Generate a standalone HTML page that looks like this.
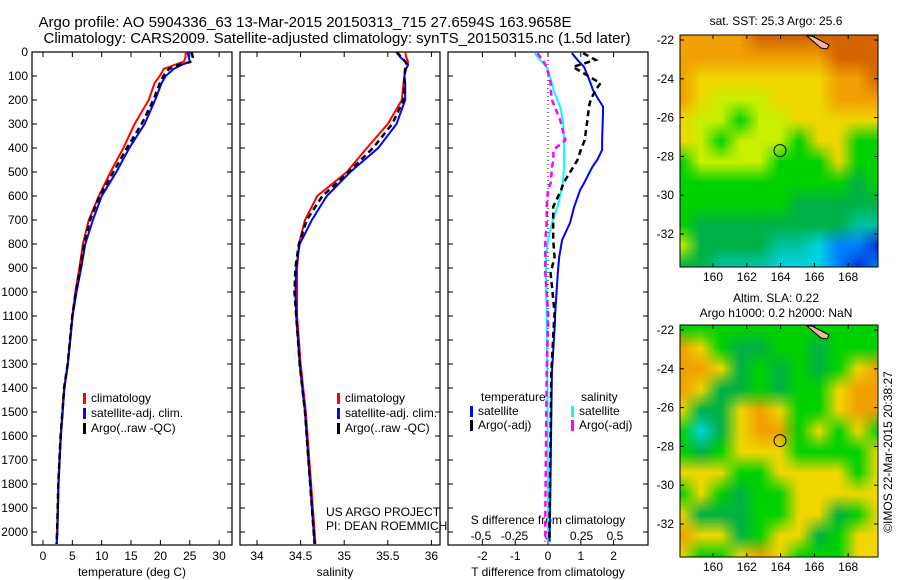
<!DOCTYPE html>
<html><head><meta charset="utf-8"><style>
body{margin:0;background:#fff;width:900px;height:580px;overflow:hidden;font-family:"Liberation Sans",sans-serif}
#root{position:relative;width:900px;height:580px}
svg{position:absolute;left:0;top:0}
canvas{position:absolute}
text{font-family:"Liberation Sans",sans-serif;font-size:12px;fill:#000}
</style></head><body>
<div id="root">
<canvas id="map1" width="198" height="232" style="left:680px;top:35px"></canvas>
<canvas id="map2" width="198" height="232" style="left:680px;top:325px"></canvas>
<svg id="s" width="900" height="580"></svg>
</div>
<script>
// ---- data ----
const depthsTop=[0,20,40,55,70,100,130,200,300,400,500,600,700,800,900,1000];
const tempClim=[24.3,24.3,24.0,22.3,20.6,19.9,19.0,18.0,15.6,13.7,11.5,9.5,7.8,6.8,6.2,5.5];
const tempSat=[24.6,24.8,25.0,23.5,22.3,20.9,20.2,19.1,17.3,14.7,12.5,10.0,8.5,7.2,6.5,5.7];
const tempArgo=[25.3,25.5,25.3,23.0,21.5,20.5,19.9,18.8,16.8,14.3,12.0,9.6,8.0,7.0,6.3,5.6];
const depthsDeep=[1100,1200,1300,1400,1500,1600,1700,1800,1900,2000,2050];
const tempDeep=[5.0,4.6,4.2,3.6,3.3,3.0,2.8,2.6,2.5,2.4,2.3];
const salClim=[35.70,35.71,35.73,35.73,35.71,35.69,35.68,35.66,35.50,35.26,35.03,34.69,34.55,34.48,34.46,34.46];
const salSat=[35.60,35.64,35.70,35.73,35.71,35.69,35.70,35.70,35.60,35.39,35.07,34.80,34.63,34.49,34.45,34.44];
const salArgo=[35.60,35.65,35.70,35.72,35.70,35.69,35.69,35.68,35.55,35.33,35.05,34.75,34.57,34.48,34.44,34.43];
const salDeep=[34.45,34.47,34.49,34.52,34.55,34.57,34.59,34.61,34.63,34.65,34.66];
const diffDepths=[5,33,62,130,158,200,228,283,367,408,450,479,546,575,645,712,783,854,921,1087,1130,1337,1937,2040];
const tDiffSat=[0.73,0.9,1.1,1.3,1.37,1.55,1.68,1.67,1.65,1.65,1.5,1.35,1.1,0.98,0.8,0.67,0.43,0.34,0.3,0.22,0.21,0.12,0.06,0.05];
const tDiffArgo=[1.07,1.45,0.76,1.6,1.45,1.3,1.25,1.2,1.12,1.0,0.9,0.77,0.47,0.4,0.16,0.16,0.16,0.2,0.08,0.2,0.18,0.1,0.05,0.04];
const sDiffSat=[-0.1,-0.06,-0.01,0.03,0.04,0.07,0.09,0.11,0.12,0.12,0.12,0.12,0.11,0.1,0.07,0.03,0,-0.015,-0.015,-0.01,-0.01,-0.005,0,0];
const sDiffArgo=[-0.08,-0.04,-0.01,0.02,0.02,0.03,0.05,0.09,0.13,0.04,0.04,0.03,0.02,0.0,-0.01,-0.01,-0.02,-0.02,-0.02,0.0,0.0,-0.01,-0.02,-0.02];
const depthTicks=[0,100,200,300,400,500,600,700,800,900,1000,1100,1200,1300,1400,1500,1600,1700,1800,1900,2000];
const tempTicks=[0,5,10,15,20,25,30];
const salTicks=[34,34.5,35,35.5,36];
const tDiffTicks=[-2,-1,0,1,2];
const sDiffTicks=["-0.5","-0.25","0","0.25","0.5"];
const latTicks=[-22,-24,-26,-28,-30,-32];
const lonTicks=[160,162,164,166,168];

// ---- axis functions ----
const yD=d=>52+d*0.24;
const xT=t=>43+t*5.87;
const xS=s=>257+(s-34)*87.2;
const xTd=t=>548+t*32.8;
const xSd=s=>548+s*134;
const NS="http://www.w3.org/2000/svg";
const svg=document.getElementById('s');
function el(tag,attrs,parent){const e=document.createElementNS(NS,tag);for(const k in attrs)e.setAttribute(k,attrs[k]);(parent||svg).appendChild(e);return e;}
function txt(x,y,s,anchor,extra){const t=el('text',Object.assign({x:x,y:y,'text-anchor':anchor||'start'},extra||{}));t.textContent=s;return t;}

// titles
let t1=txt(305,27,'Argo profile: AO 5904336_63 13-Mar-2015 20150313_715 27.6594S 163.9658E','middle',{style:'font-size:15px'});

let t2=txt(337,43,'Climatology: CARS2009. Satellite-adjusted climatology: synTS_20150315.nc (1.5d later)','middle',{style:'font-size:15px'});


const panels=[[32,232],[240,440],[448,648]];
panels.forEach((p,i)=>{
  const r=el('rect',{x:p[0],y:52,width:p[1]-p[0],height:493,fill:'none',stroke:'#000','stroke-width':1.2});
  
  
  depthTicks.forEach(d=>{const y=yD(d);
    el('line',{x1:p[0],x2:p[0]+5,y1:y,y2:y,stroke:'#000'});
    el('line',{x1:p[1],x2:p[1]-5,y1:y,y2:y,stroke:'#000'});});
});
depthTicks.forEach(d=>{const t=txt(28,yD(d)+4,String(d),'end');
  });

function xticks(vals,fx,labels,ly){vals.forEach((v,i)=>{const x=fx(v);
  el('line',{x1:x,x2:x,y1:545,y2:540,stroke:'#000'});el('line',{x1:x,x2:x,y1:52,y2:57,stroke:'#000'});
  const t=txt(x,ly,labels?labels[i]:String(v),'middle');
  });}
xticks(tempTicks,xT,null,560);
xticks(salTicks,xS,null,560);
xticks(tDiffTicks,xTd,null,560);
sDiffTicks.forEach(s=>{const t=txt(xSd(parseFloat(s)),540,s,'middle');
  });
let a;
a=txt(132,576,'temperature (deg C)','middle');
a=txt(335,576,'salinity','middle');
a=txt(548,576,'T difference from climatology','middle');
a=txt(548,524,'S difference from climatology','middle');
a=txt(326,516,'US ARGO PROJECT');
a=txt(326,530,'PI: DEAN ROEMMICH');

el('line',{x1:548,x2:548,y1:52,y2:545,stroke:'#000','stroke-dasharray':'1,3'});

function line(xs,ds,fx,color,dash,name,w){
  const pts=xs.map((v,i)=>fx(v).toFixed(1)+','+yD(ds[i]).toFixed(1)).join(' ');
  const l=el('polyline',{points:pts,fill:'none',stroke:color,'stroke-width':w||2,'stroke-dasharray':dash||'none'});
  }
const allD=depthsTop.concat(depthsDeep);
line(tempClim.concat(tempDeep),allD,xT,'#f00',null,'temp-climatology-line');
line(tempSat.concat(tempDeep.map(v=>v+0.05)),allD,xT,'#00f',null,'temp-satellite-line');
line(tempArgo.concat(tempDeep),allD,xT,'#000','6,4','temp-argo-line',2.5);
line(salClim.concat(salDeep.map(v=>v+0.01)),allD,xS,'#f00',null,'sal-climatology-line');
line(salSat.concat(salDeep),allD,xS,'#00f',null,'sal-satellite-line');
line(salArgo.concat(salDeep),allD,xS,'#000','6,4','sal-argo-line',2.5);
line(sDiffSat,diffDepths,xSd,'#0ff',null,'s-diff-satellite-line');
line(sDiffArgo,diffDepths,xSd,'#f0f','6,4','s-diff-argo-line',2.5);
line(tDiffSat,diffDepths,xTd,'#00f',null,'t-diff-satellite-line');
line(tDiffArgo,diffDepths,xTd,'#000','6,4','t-diff-argo-line',2.5);

function leg(x,y,color,label,name){el('rect',{x:x,y:y-9,width:3,height:11,fill:color});
  const t=txt(x+8,y,label);}
leg(83,402,'#f00','climatology','legend-climatology');
leg(83,417,'#00f','satellite-adj. clim.','legend-satellite');
leg(83,432,'#000','Argo(..raw -QC)','legend-argo');
leg(337,402,'#f00','climatology','legend-climatology-2');
leg(337,417,'#00f','satellite-adj. clim.','legend-satellite-2');
leg(337,432,'#000','Argo(..raw -QC)','legend-argo-2');
a=txt(481,401,'temperature');
a=txt(581,401,'salinity');
leg(470,415,'#00f','satellite','legend-t-satellite');
leg(470,429,'#000','Argo(-adj)','legend-t-argo');
leg(571,415,'#0ff','satellite','legend-s-satellite');
leg(571,429,'#f0f','Argo(-adj)','legend-s-argo');

// ---- maps ----
const pal={O:[214,100,0],o:[240,160,0],y:[240,215,0],Y:[200,240,0],g:[0,210,0],G:[0,178,70],t:[0,195,160],c:[0,210,225],b:[0,130,255],B:[0,50,210]};
const sstGrid=["ooooOOOOOOO","ooooooooOOO","oyyyyyyyooO","oyYYYyyyooo","yYYgYYyyyyy","yYgYYYgyygg","gYYYYgggygg","gggggggggGg","ggggggGGGGG","gGGGGGGGGtt","YGGGGttcbbB","GGtttcccbBb"];
const slaGrid=["ggggggggggg","oygGGggGggg","ooyGgGgGgyo","oyGGgGggyoo","yGGyoyggyoo","gcGyoogygyg","gGgyyyggggy","yyyggyyyygy","gygGggyyyyy","yGGGggyyGgy","oyyGgyyGgyy","yggyoygggyy"];
function drawMap(id,grid,smooth){
  const c=document.getElementById(id),ctx=c.getContext('2d');
  const off=document.createElement('canvas');off.width=11;off.height=12;
  const o=off.getContext('2d'),img=o.createImageData(11,12);
  grid.forEach((row,j)=>[...row].forEach((ch,i)=>{const k=(j*11+i)*4,p=pal[ch];img.data[k]=p[0];img.data[k+1]=p[1];img.data[k+2]=p[2];img.data[k+3]=255;}));
  o.putImageData(img,0,0);
  ctx.imageSmoothingEnabled=true;ctx.drawImage(off,-9,-9,216,250);
}
drawMap('map1',sstGrid);drawMap('map2',slaGrid);

function mapFrame(top,name){
  const r=el('rect',{x:680,y:top,width:198,height:232,fill:'none',stroke:'#000'});
  
  latTicks.forEach(L=>{const y=top+5+(-22-L)*19.4;
    el('line',{x1:680,x2:684,y1:y,y2:y,stroke:'#000'});el('line',{x1:878,x2:874,y1:y,y2:y,stroke:'#000'});
    const t=txt(674,y+4,String(L),'end');});
  lonTicks.forEach(L=>{const x=713+(L-160)*16.9;
    el('line',{x1:x,x2:x,y1:top+232,y2:top+228,stroke:'#000'});el('line',{x1:x,x2:x,y1:top,y2:top+4,stroke:'#000'});
    const t=txt(x,top+246,String(L),'middle');});
  el('polygon',{points:'807,'+(top+1)+' 812,'+(top+1)+' 829,'+(top+10)+' 827,'+(top+14)+' 821,'+(top+13),fill:'#f4b898',stroke:'#000','stroke-width':1});
  const c=el('circle',{cx:780,cy:top+5+5.7*19.4,r:6,fill:'none',stroke:'#000'});
  
}
mapFrame(35,'sst-map-frame');mapFrame(325,'sla-map-frame');
a=txt(776,25,'sat. SST: 25.3 Argo: 25.6','middle');
a=txt(776,302,'Altim. SLA: 0.22','middle');
a=txt(776,317,'Argo h1000: 0.2 h2000: NaN','middle');
a=txt(0,0,'©IMOS 22-Mar-2015 20:38:27','middle',{transform:'translate(892,452) rotate(-90)'});

</script>
</body></html>
